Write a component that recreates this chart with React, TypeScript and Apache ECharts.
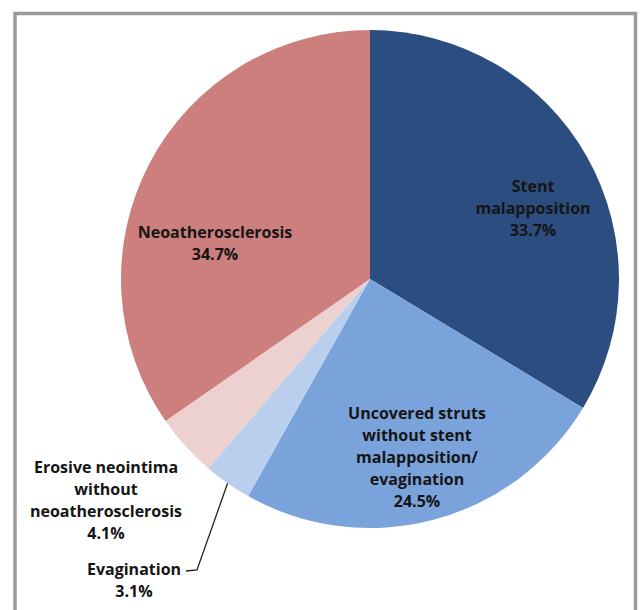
import React, { useEffect, useRef } from "react";
import * as echarts from "echarts";

const categories = [
  "Stent\nmalapposition",
  "Uncovered struts\nwithout stent\nmalapposition/\nevagination",
  "Evagination",
  "Erosive neointima\nwithout\nneoatherosclerosis",
  "Neoatherosclerosis",
];
const values = [33.7, 24.5, 3.1, 4.1, 34.7];
const colors = ["#2C4D80", "#7BA3DB", "#BACFEE", "#EDD0D0", "#CD7F7E"];

export default function App() {
  const ref = useRef<HTMLDivElement>(null);
  useEffect(() => {
    if (!ref.current) return;
    const chart = echarts.init(ref.current, null, { renderer: "svg" });
    const cx = 370;
    const cy = 279;
    const r = 249;
    const total = values.reduce((a, b) => a + b, 0);
    const midAngle = (i: number) => {
      let s = 0;
      for (let k = 0; k < i; k++) s += values[k];
      return ((s + values[i] / 2) / total) * 2 * Math.PI;
    };
    // label anchor positions (pixel)
    const labelPos: [number, number][] = [
      [533, 208],
      [417, 457],
      [134, 580],
      [106, 500],
      [215, 243],
    ];
    chart.setOption({
      animation: false,
      graphic: [
        {
          type: "rect",
          shape: { x: 15, y: 13.5, width: 620.5, height: 700 },
          style: { fill: "none", stroke: "#9A9B9D", lineWidth: 3.5 },
          silent: true,
          z: 100,
        },
      ],
      series: [
        {
          type: "pie",
          center: [cx, cy],
          radius: [0, r],
          startAngle: 90,
          clockwise: true,
          avoidLabelOverlap: false,
          itemStyle: { borderWidth: 0 },
          data: categories.map((name, i) => ({
            name,
            value: values[i],
            itemStyle: { color: colors[i] },
            labelLine: { show: i === 2, lineStyle: { color: "#222", width: 1.3 } },
          })),
          label: {
            show: true,
            position: "outside",
            formatter: (p: any) => `${p.name}\n${p.value.toFixed(1)}%`,
            fontFamily: "Open Sans",
            fontWeight: "bold",
            fontSize: 16,
            lineHeight: 22,
            color: "#151515",
            align: "center",
          },
          labelLine: { show: false },
          labelLayout: (params: any) => {
            const i = params.dataIndex;
            const p = labelPos[i];
            const out: any = {
              x: p[0],
              y: p[1],
              align: "center",
              verticalAlign: "middle",
            };
            if (i === 2) {
              const a = midAngle(i);
              const rx = cx + r * Math.sin(a);
              const ry = cy - r * Math.cos(a);
              out.labelLinePoints = [
                [rx, ry],
                [197, 570],
                [186, 571],
              ];
            }
            return out;
          },
        },
      ],
    });
    return () => chart.dispose();
  }, []);
  return (
    <div
      ref={ref}
      style={{ position: "fixed", left: 0, top: 0, width: 641, height: 610, background: "#fff" }}
    />
  );
}
